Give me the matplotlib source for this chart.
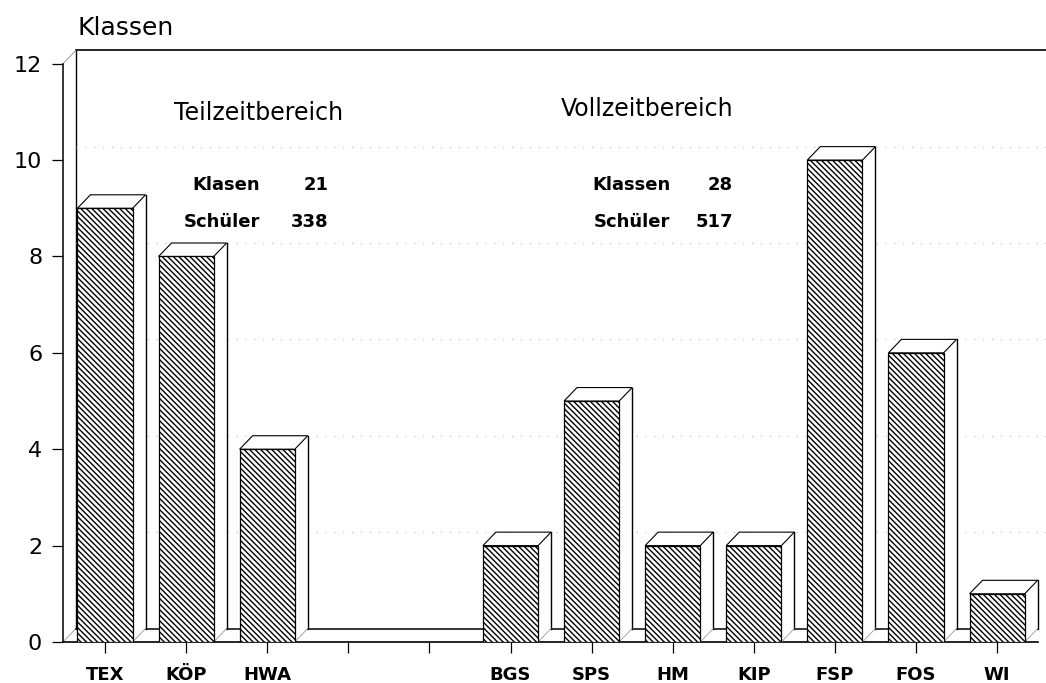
import numpy as np
import matplotlib.pyplot as plt
from matplotlib.patches import Polygon

# Klassen per Schulform (leere Slots trennen Teilzeit / Vollzeit)
slots = ['TEX', 'KÖP', 'HWA', '', '', 'BGS', 'SPS', 'HM', 'KIP', 'FSP', 'FOS', 'WI']
klassen = [9, 8, 4, np.nan, np.nan, 2, 5, 2, 2, 10, 6, 1]

teil_labels = ['Klasen', 'Schüler']
teil_values = [21, 338]
voll_labels = ['Klassen', 'Schüler']
voll_values = [28, 517]

plt.rcParams['font.family'] = 'DejaVu Sans'
plt.rcParams['hatch.linewidth'] = 1.0

fig = plt.figure(figsize=(10.46, 6.83), dpi=100)
# axes placed so that one category = 81 px and one class = 48 px
xmin, xmax = -0.518, 11.603
ymin, ymax = 0, 12.7
ax = fig.add_axes([63 / 1046, 41 / 683, 983 / 1046, 612 / 683])
ax.set_xlim(xmin, xmax)
ax.set_ylim(ymin, ymax)

dx, dy = 0.16, 0.28   # 3D depth offset
width = 0.68

x = np.arange(len(slots))
bars = ax.bar(x, klassen, width=width, facecolor='white', edgecolor='black',
              hatch='\\' * 6, linewidth=0.9, zorder=5)

# back wall
ax.plot([xmin + dx, xmax], [12 + dy, 12 + dy], color='black', lw=1.2, zorder=1)
ax.plot([xmin + dx, xmin + dx], [dy, 12 + dy], color='black', lw=1.0, zorder=1)
ax.plot([xmin, xmin + dx], [12, 12 + dy], color='#888888', lw=0.6, zorder=1)
ax.plot([xmin, xmin + dx], [0, dy], color='#999999', lw=0.6, zorder=1)
for g in range(2, 12, 2):
    ax.plot([xmin + dx, xmax], [g + dy, g + dy], color='#bbbbbb', lw=0.8,
            linestyle=(0, (1, 7)), zorder=1)

last_right = xmin
for rect in bars:
    h = rect.get_height()
    if np.isnan(h):
        continue
    xl = rect.get_x()
    xr = xl + rect.get_width()
    last_right = xr
    side = Polygon([(xr, 0), (xr + dx, dy), (xr + dx, h + dy), (xr, h)],
                   closed=True, facecolor='white', edgecolor='none', zorder=4)
    ax.add_patch(side)
    ax.plot([xr + dx, xr + dx], [dy, h + dy], color='black', lw=1.0, zorder=4)
    ax.plot([xr, xr + dx], [0, dy], color='#999999', lw=0.6, zorder=4)
    top = Polygon([(xl, h), (xr, h), (xr + dx, h + dy), (xl + dx, h + dy)],
                  closed=True, facecolor='white', edgecolor='black', lw=0.8, zorder=4)
    ax.add_patch(top)

# floor back edge
ax.plot([xmin + dx, last_right + dx], [dy, dy], color='black', lw=1.1, zorder=2)

# axes
for s in ['top', 'right']:
    ax.spines[s].set_visible(False)
ax.spines['left'].set_bounds(0, 12)
ax.spines['bottom'].set_bounds(xmin, last_right + dx)
ax.spines['left'].set_linewidth(1.1)
ax.spines['bottom'].set_linewidth(1.2)

ax.set_yticks(range(0, 13, 2))
ax.tick_params(axis='y', direction='out', length=8, width=0.9, pad=7, labelsize=16)
ax.set_xticks(x)
ax.set_xticklabels(slots, fontsize=13, fontweight='bold')
ax.tick_params(axis='x', direction='out', length=8, width=0.9, pad=9)

fig.text(77 / 1046, 1 - 35 / 683, 'Klassen', fontsize=18, va='baseline')

# annotations
ax.text(1.89, 10.83, 'Teilzeitbereich', fontsize=17, ha='center', va='baseline')
ax.text(6.68, 10.91, 'Vollzeitbereich', fontsize=17, ha='center', va='baseline')
for i, ybase in enumerate([9.37, 8.61]):
    ax.text(1.91, ybase, teil_labels[i], fontsize=13, fontweight='bold',
            ha='right', va='baseline')
    ax.text(2.76, ybase, str(teil_values[i]), fontsize=13, fontweight='bold',
            ha='right', va='baseline')
    ax.text(6.97, ybase, voll_labels[i], fontsize=13, fontweight='bold',
            ha='right', va='baseline')
    ax.text(7.74, ybase, str(voll_values[i]), fontsize=13, fontweight='bold',
            ha='right', va='baseline')

fig.savefig('out.png', dpi=100)
